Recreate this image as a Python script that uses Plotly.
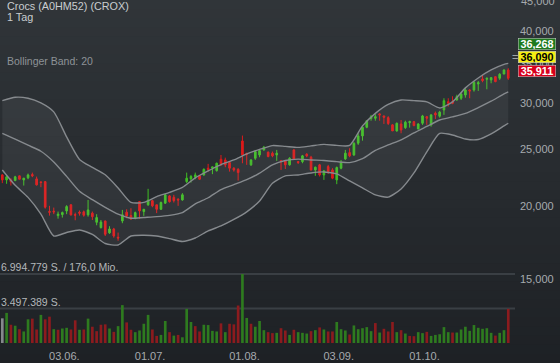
import math
import pandas as pd
import plotly.graph_objects as go

# ---------------- data ----------------
holidays = ["2019-05-27", "2019-07-04", "2019-09-02"]
dates = [d.strftime("%Y-%m-%d") for d in pd.bdate_range("2019-05-13", "2019-10-29")
         if d.strftime("%Y-%m-%d") not in holidays]

open_ = [22.61, 22.17, 22.17, 22.11, 22.53, 22.17, 22.35, 22.64, 22.26, 22.00,
         22.02, 19.56, 19.59, 19.25, 19.33, 19.61, 20.09, 19.33, 19.51, 19.54,
         19.31, 19.44, 18.75, 18.36, 18.85, 17.98, 18.26, 17.67, 18.85, 19.51,
         19.25, 19.05, 20.35, 19.56, 20.09, 20.42, 20.09, 19.74, 20.22, 20.81,
         20.70, 20.54, 20.48, 22.02, 22.26, 22.41, 22.53, 22.61, 23.22, 23.22,
         23.00, 24.06, 23.99, 23.74, 23.22, 23.12, 25.86, 24.64, 23.53, 24.15,
         24.47, 24.96, 24.74, 24.64, 24.47, 23.92, 23.92, 23.53, 24.96, 23.83,
         23.83, 24.54, 24.25, 23.06, 23.53, 22.61, 23.37, 23.06, 22.17, 23.22,
         24.09, 24.70, 24.47, 25.63, 26.38, 27.30, 28.25, 28.29, 28.78, 28.55,
         28.36, 27.56, 26.91, 27.66, 27.26, 27.81, 27.91, 27.12, 27.74, 28.47,
         27.56, 28.86, 28.52, 29.24, 30.21, 30.21, 30.41, 30.62, 31.02, 31.64,
         31.64, 32.40, 33.05, 33.01, 32.92, 33.35, 33.14, 33.70, 34.24]
high = [22.68, 22.55, 22.32, 22.53, 22.55, 22.35, 22.73, 22.82, 22.46, 22.00,
        22.02, 20.01, 19.87, 19.56, 19.56, 20.06, 20.14, 19.48, 19.64, 19.64,
        20.48, 19.56, 19.36, 18.92, 18.85, 18.46, 18.34, 18.00, 19.69, 19.74,
        19.82, 19.56, 20.40, 19.74, 21.40, 20.48, 20.09, 20.35, 20.98, 20.87,
        20.90, 20.62, 21.04, 22.82, 22.61, 22.82, 22.61, 23.20, 23.62, 23.37,
        23.74, 24.47, 24.21, 23.83, 23.31, 23.22, 26.42, 24.64, 24.06, 24.96,
        24.96, 25.36, 24.80, 24.80, 24.96, 23.99, 23.99, 24.25, 25.03, 23.89,
        24.47, 24.64, 24.38, 23.37, 23.62, 23.06, 23.53, 23.22, 23.37, 23.99,
        24.96, 25.13, 25.73, 26.66, 27.37, 28.10, 28.67, 28.75, 28.86, 28.59,
        28.52, 27.63, 27.81, 28.10, 28.02, 28.02, 27.99, 27.74, 28.67, 28.55,
        28.75, 29.05, 29.13, 30.62, 30.62, 30.86, 31.05, 31.35, 31.86, 31.73,
        32.79, 32.79, 33.59, 33.22, 33.27, 33.35, 33.81, 34.34, 34.48]
low = [21.89, 21.83, 21.68, 22.06, 22.21, 21.68, 22.23, 22.41, 21.68, 21.54,
       19.79, 19.25, 19.36, 19.02, 19.10, 19.36, 19.25, 18.90, 19.25, 19.17,
       19.17, 18.92, 18.53, 18.29, 17.76, 17.91, 17.64, 17.43, 18.68, 19.05,
       18.92, 18.97, 19.00, 19.23, 20.01, 19.90, 19.44, 19.69, 20.16, 20.27,
       20.27, 20.01, 20.42, 21.89, 21.94, 22.23, 22.17, 22.55, 22.91, 22.68,
       22.91, 23.43, 23.31, 22.91, 22.91, 22.11, 23.68, 23.53, 23.43, 23.99,
       24.25, 24.89, 24.25, 24.25, 23.90, 23.06, 23.15, 23.46, 23.99, 23.62,
       23.68, 24.25, 23.00, 22.53, 22.47, 22.17, 22.70, 22.23, 21.80, 23.12,
       23.99, 24.25, 24.38, 25.46, 25.89, 27.20, 28.02, 28.02, 28.02, 27.66,
       27.54, 26.91, 26.83, 26.66, 27.12, 27.26, 27.41, 27.08, 27.56, 27.56,
       27.37, 28.21, 28.36, 28.67, 29.63, 29.91, 30.34, 30.41, 30.69, 30.62,
       31.43, 31.52, 32.62, 31.73, 32.49, 32.62, 32.92, 33.66, 32.92]
close = [22.17, 22.44, 22.00, 22.44, 22.23, 22.32, 22.61, 22.53, 21.74, 21.94,
         19.90, 19.51, 19.54, 19.36, 19.48, 19.95, 19.31, 19.28, 19.44, 19.28,
         19.69, 19.17, 19.10, 18.77, 17.88, 18.26, 17.76, 17.62, 19.31, 19.23,
         19.00, 19.48, 19.61, 19.74, 20.48, 20.01, 19.74, 20.27, 20.90, 20.34,
         20.42, 20.48, 20.90, 22.32, 22.47, 22.61, 22.23, 23.12, 23.12, 23.34,
         23.68, 23.62, 23.53, 23.22, 23.06, 22.82, 24.47, 24.54, 23.99, 24.80,
         24.89, 25.23, 24.31, 24.38, 24.64, 23.83, 23.53, 24.15, 24.09, 23.74,
         24.38, 24.38, 23.06, 23.31, 22.61, 22.97, 22.91, 22.32, 23.28, 23.74,
         24.64, 24.38, 25.63, 26.38, 27.30, 28.02, 28.47, 28.47, 28.67, 28.40,
         27.71, 26.91, 27.74, 27.01, 27.85, 27.91, 27.48, 27.66, 28.55, 28.29,
         28.67, 28.67, 28.98, 30.33, 30.02, 30.02, 30.83, 31.14, 31.64, 31.52,
         32.62, 32.57, 32.83, 33.14, 33.22, 32.70, 33.67, 34.24, 33.14]

# volume in million shares; direction per bar: n = neutral, G = up, R = down
volume_mio = [2.5, 3.05, 1.85, 1.75, 1.4, 1.17, 2.4, 2.47, 1.37, 2.85,
              2.4, 2.67, 1.4, 1.34, 1.47, 1.54, 1.37, 2.3, 1.34, 1.37,
              2.47, 1.65, 1.2, 1.85, 1.89, 1.47, 1.13, 1.71, 3.84, 2.09,
              1.34, 1.1, 1.27, 1.95, 2.85, 1.37, 0.72, 0.82, 2.23, 1.1,
              0.75, 0.82, 0.58, 3.46, 2.13, 1.71, 1.17, 1.85, 1.82, 1.23,
              1.17, 1.99, 1.1, 1.95, 1.89, 3.8, 6.99, 2.54, 1.95, 1.65,
              2.23, 1.3, 1.1, 1.0, 1.03, 1.5, 1.27, 0.82, 1.34, 1.1,
              1.03, 0.96, 1.2, 1.3, 1.58, 1.37, 1.17, 1.17, 2.13, 1.4,
              1.27, 0.86, 1.78, 1.4, 1.5, 1.61, 1.2, 2.02, 1.06, 1.44,
              1.17, 2.13, 1.1, 1.3, 0.96, 0.72, 0.69, 1.1, 1.0, 1.13,
              0.72, 0.82, 0.89, 1.61, 1.1, 1.06, 1.06, 1.37, 1.65, 1.23,
              1.82, 1.54, 1.44, 1.5, 1.03, 0.75, 1.03, 1.3, 3.46]
vol_dir = ("nGRGRGGRRG" "RRGRGGRRGR" "GRRRRGRGGR" "RGGGGRRGGR" "GRGGGRRGGG"
           "GRGRRRGGRG" "GGRRGRRGRG" "GGRGRGRRGG" "GRGGGGGRGR" "RRGRGRRGGR"
           "GGGGGRGGGG" "GGGGGRGGR")
vol_max_label = "6.994.779 S. / 176,0 Mio."
vol_half_label = "3.497.389 S."
vol_max = 6.994779
vol_half = 3.497389

# Bollinger band (20) read at every third session
band_idx = list(range(0, 118, 3)) + [118]
bb_upper = [30.33, 30.74, 30.62, 30.06, 29.01, 26.28, 24.04, 23.29, 22.62, 21.48,
            20.28, 20.28, 20.75, 21.10, 21.52, 22.35, 22.97, 23.55, 23.99, 24.57,
            25.01, 25.39, 25.31, 25.21, 25.36, 25.51, 25.41, 25.41, 27.45, 28.84,
            29.88, 30.41, 30.33, 30.18, 29.47, 30.18, 31.90, 33.18, 34.24, 35.00, 35.14]
bb_mid = [26.66, 26.06, 25.43, 24.83, 23.80, 22.48, 21.19, 20.50, 19.89, 19.36,
          19.05, 19.11, 19.17, 19.27, 19.48, 20.16, 20.66, 21.34, 21.76, 22.19,
          22.77, 23.53, 23.94, 24.07, 23.99, 23.94, 23.83, 23.74, 24.11, 24.91,
          25.46, 25.98, 26.70, 27.39, 28.10, 28.44, 28.84, 29.51, 30.26, 31.15, 31.39]
bb_lower = [23.06, 21.70, 20.69, 19.37, 17.76, 18.01, 18.19, 17.87, 17.24, 17.14,
            17.76, 17.81, 17.76, 17.58, 17.38, 17.62, 18.12, 18.48, 18.96, 19.54,
            20.40, 21.87, 22.52, 22.61, 22.79, 22.88, 22.70, 22.08, 21.48, 20.89,
            20.71, 21.39, 22.79, 24.77, 26.64, 26.48, 26.06, 26.01, 26.59, 27.45, 27.74]

tick_dates = ["2019-06-03", "2019-07-01", "2019-08-01", "2019-09-03", "2019-10-01"]
tick_text = ["03.06.", "01.07.", "01.08.", "03.09.", "01.10."]
price_ticks = [15, 20, 25, 30, 35, 40]
price_tick_text = ["15,000", "20,000", "25,000", "30,000", "35,000", "40,000"]
edge_tick, edge_tick_text = 45, "45,000"   # sits on the top edge, half cut off
quote_values = ["36,268", "36,090", "35,911"]

title = "Crocs (A0HM52) (CROX)"
subtitle = "1 Tag"
indicator = "Bollinger Band: 20"

# ---------------- figure ----------------
W, H = 560, 363
ML, MR, MT, MB = 0, 45, 0, 18
PW, PH = W - ML - MR, H - MT - MB
FONT = "Liberation Sans, Arial, sans-serif"

GREEN, RED = "#3fbd24", "#dc1a1a"
VGREEN, VRED, VGRAY = "#2e7b1f", "#8c1b1e", "#85898c"
BAND = "#868a8e"
TICKC = "#a6aaae"

band_x = [dates[i] for i in band_idx]

fig = go.Figure()

fig.add_trace(go.Candlestick(
    x=dates, open=open_, high=high, low=low, close=close,
    increasing=dict(line=dict(color=GREEN, width=1), fillcolor=GREEN),
    decreasing=dict(line=dict(color=RED, width=1), fillcolor=RED),
    whiskerwidth=0, showlegend=False, hoverinfo="skip"))

# Bollinger band: fill between upper and lower
fig.add_trace(go.Scatter(x=band_x, y=bb_upper, mode="lines",
                         line=dict(color=BAND, width=1.4, shape="spline", smoothing=0.6),
                         hoverinfo="skip", showlegend=False))
fig.add_trace(go.Scatter(x=band_x, y=bb_lower, mode="lines", fill="tonexty",
                         fillcolor="rgba(255,255,255,0.055)",
                         line=dict(color=BAND, width=1.4, shape="spline", smoothing=0.6),
                         hoverinfo="skip", showlegend=False))
fig.add_trace(go.Scatter(x=band_x, y=bb_mid, mode="lines",
                         line=dict(color=BAND, width=1.4, shape="spline", smoothing=0.6),
                         hoverinfo="skip", showlegend=False))

vcol = [{"n": VGRAY, "G": VGREEN, "R": VRED}[c] for c in vol_dir]
fig.add_trace(go.Bar(x=dates, y=volume_mio, marker=dict(color=vcol, line=dict(width=0)),
                     width=0.62, yaxis="y2", showlegend=False, hoverinfo="skip"))

shapes = []
# background gradient (styling)
N = 40
top, bot = (48, 53, 57), (30, 33, 37)
for k in range(N):
    t = k / (N - 1)
    c = tuple(round(top[j] + (bot[j] - top[j]) * t) for j in range(3))
    y0px, y1px = H * k / N, H * (k + 1) / N + 1
    shapes.append(dict(type="rect", xref="paper", yref="paper", layer="below",
                       x0=-0.01, x1=W / PW + 0.01,
                       y0=1 - y1px / PH, y1=1 - y0px / PH,
                       fillcolor="rgb(%d,%d,%d)" % c, line=dict(width=0)))
for v in (vol_max, vol_half):
    shapes.append(dict(type="line", xref="paper", yref="y2", x0=0, x1=1, y0=v, y1=v,
                       line=dict(color="#3a3f44", width=2), layer="below"))

def py(px):
    return 1 - px / PH

def pxx(px):
    return px / PW

ann = []
ann.append(dict(text=title, x=pxx(5), y=py(6.3), xref="paper", yref="paper",
                xanchor="left", yanchor="middle", showarrow=False,
                font=dict(family=FONT, size=10.8, color="#c9cdd0")))
ann.append(dict(text=subtitle, x=pxx(5), y=py(17), xref="paper", yref="paper",
                xanchor="left", yanchor="middle", showarrow=False,
                font=dict(family=FONT, size=10.8, color="#c9cdd0")))
ann.append(dict(text=indicator, x=pxx(5), y=py(61), xref="paper", yref="paper",
                xanchor="left", yanchor="middle", showarrow=False,
                font=dict(family=FONT, size=10.5, color="#8e9397")))
ann.append(dict(text=vol_max_label, x=0, y=vol_max, xref="paper", yref="y2",
                xanchor="left", yanchor="bottom", xshift=-1, yshift=-1, showarrow=False,
                font=dict(family=FONT, size=10.5, color="#b4b8bb")))
ann.append(dict(text=vol_half_label, x=0, y=vol_half, xref="paper", yref="y2",
                xanchor="left", yanchor="bottom", xshift=-1, yshift=-1, showarrow=False,
                font=dict(family=FONT, size=10.5, color="#b4b8bb")))
# the top price tick label, clipped by the window edge as in the original
ann.append(dict(text=edge_tick_text, x=1, y=math.log10(edge_tick), xref="paper", yref="y",
                xanchor="left", yanchor="middle", xshift=4, showarrow=False,
                font=dict(family=FONT, size=11, color=TICKC)))
box_styles = [("#1e7a1e", "#ffffff", 44.3), ("#f4ee12", "#000000", 57.4), ("#d8001c", "#ffffff", 70.6)]
for val, (bg, fg, ycen) in zip(quote_values, box_styles):
    ann.append(dict(text="<b>%s</b>" % val, x=pxx(537.2), y=py(ycen), xref="paper", yref="paper",
                    xanchor="center", yanchor="middle", showarrow=False,
                    width=37, height=11, bgcolor=bg, bordercolor="#d0d0d0", borderwidth=0.5,
                    borderpad=0, font=dict(family=FONT, size=10.8, color=fg)))
ann.append(dict(text="=", x=pxx(515), y=py(57), xref="paper", yref="paper",
                xanchor="center", yanchor="middle", showarrow=False,
                font=dict(family=FONT, size=11, color="#a0a4a8")))

fig.update_layout(
    width=W, height=H, margin=dict(l=ML, r=MR, t=MT, b=MB),
    paper_bgcolor="#272b2f", plot_bgcolor="rgba(0,0,0,0)",
    boxgap=0.45, bargap=0.3, hovermode=False,
    shapes=shapes, annotations=ann,
    xaxis=dict(type="category", categoryorder="array", categoryarray=dates,
               range=[-0.54, 119.57], rangeslider=dict(visible=False),
               showgrid=False, zeroline=False, showline=False, ticks="",
               tickmode="array", tickvals=tick_dates, ticktext=tick_text,
               tickfont=dict(family=FONT, size=11, color=TICKC),
               ticklabelshift=2, ticklabelstandoff=3),
    yaxis=dict(type="log", range=[1.06221, 1.65475], side="right",
               showgrid=False, zeroline=False, showline=False, ticks="",
               tickmode="array", tickvals=price_ticks, ticktext=price_tick_text,
               tickfont=dict(family=FONT, size=11, color=TICKC),
               ticklabelstandoff=4),
    yaxis2=dict(overlaying="y", range=[-0.203, 34.77], visible=False, showgrid=False),
    showlegend=False,
)

fig.write_html("out.html", include_plotlyjs=True,
               config={"displayModeBar": False, "staticPlot": True},
               post_script="document.body.style.margin='0';document.body.style.padding='0';")
